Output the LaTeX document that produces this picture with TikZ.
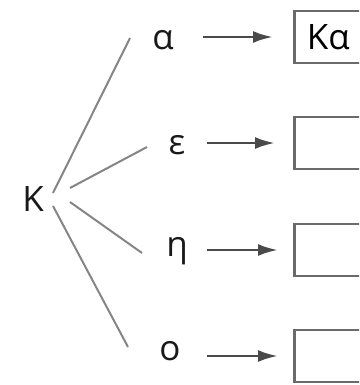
\documentclass[tikz,border=0pt]{standalone}
\usepackage{fontspec}
\setmainfont{Open Sans}
\usetikzlibrary{arrows.meta,positioning}
\definecolor{linegray}{HTML}{858585}
\definecolor{boxgray}{HTML}{6A6A6A}
\definecolor{arrgray}{HTML}{4A4A4A}
\tikzset{
  letter/.style={inner sep=1pt, font=\fontsize{35}{40}\selectfont, text=black!90},
  answerbox/.style={draw=boxgray, line width=2.6pt, rectangle, anchor=west, minimum width=68pt, minimum height=52pt, inner sep=0pt, font=\fontsize{35}{40}\selectfont},
  branch/.style={draw=linegray, line width=2pt},
  arrow/.style={-{Latex[length=20pt,width=12pt]}, draw=arrgray, line width=2.8pt}
}
\begin{document}
\begin{tikzpicture}[x=1pt,y=-1pt]
  \useasboundingbox (0,0) rectangle (359,385);
  \clip (0,0) rectangle (359,385);
  % root and the four vowels
  \node[letter] (kap) at (33,199) {Κ};
  \node[letter] (alpha) at (163,40) {α};
  \node[letter] (eps) at (177,145) {ε};
  \node[letter] (eta) at (177,251) {η};
  \node[letter] (omi) at (170,351) {ο};
  % answer boxes
  \node[answerbox] (bxa) at (293,37) {Κα};
  \node[answerbox] (bxe) at (293,143) {};
  \node[answerbox] (bxh) at (293,250) {};
  \node[answerbox] (bxo) at (293,356) {};
  % branch ends
  \coordinate (ka) at (53,193);
  \coordinate (ke) at (70,188);
  \coordinate (kh) at (70,202);
  \coordinate (ko) at (53,206);
  \coordinate (ea) at (130,38);
  \coordinate (ee) at (147,147);
  \coordinate (eh) at (142,253);
  \coordinate (eo) at (128,347);
  \draw[branch] (ka) -- (ea);
  \draw[branch] (ke) -- (ee);
  \draw[branch] (kh) -- (eh);
  \draw[branch] (ko) -- (eo);
  % arrows to the boxes
  \draw[arrow] (203,0 |- bxa.west) -- ([xshift=-20pt]bxa.west);
  \draw[arrow] (207,0 |- bxe.west) -- ([xshift=-18pt]bxe.west);
  \draw[arrow] (207,0 |- bxh.west) -- ([xshift=-15pt]bxh.west);
  \draw[arrow] (207,0 |- bxo.west) -- ([xshift=-15pt]bxo.west);
\end{tikzpicture}
\end{document}
